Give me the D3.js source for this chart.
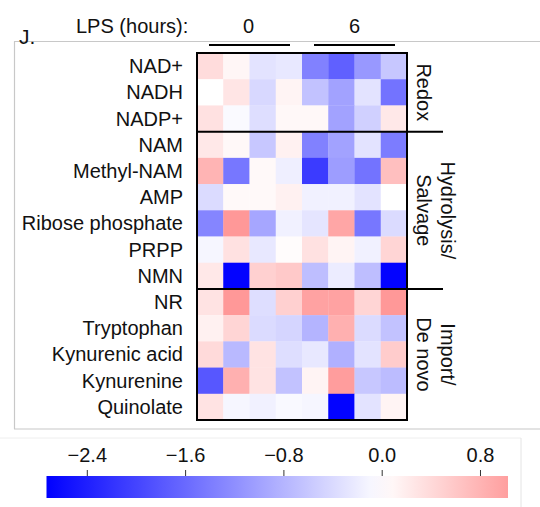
<!DOCTYPE html>
<html>
<head>
<meta charset="utf-8">
<script src="https://cdn.jsdelivr.net/npm/d3@7"></script>
<style>
  body { margin: 0; background: #fff; }
  text { font-family: "Liberation Sans", Arial, sans-serif; fill: #111; }
</style>
</head>
<body>
<div id="chart"></div>
<script>
// metabolites (rows), top to bottom
var metabolites = ["NAD+", "NADH", "NADP+", "NAM", "Methyl-NAM", "AMP", "Ribose phosphate",
  "PRPP", "NMN", "NR", "Tryptophan", "Kynurenic acid", "Kynurenine", "Quinolate"];

// samples (columns): 4 at LPS 0 h, 4 at LPS 6 h
var samples = ["0a", "0b", "0c", "0d", "6a", "6b", "6c", "6d"];
var lpsHours = ["0", "6"];

// pathway groups, with first and last row
var groups = [
  { name: ["Redox"], first: 0, last: 2 },
  { name: ["Hydrolysis/", "Salvage"], first: 3, last: 8 },
  { name: ["Import/", "De novo"], first: 9, last: 13 }
];

// log fold change
var values = [
  [0.37, 0.10, -0.30, -0.25, -1.35, -1.70, -1.10, -0.60],
  [0.00, 0.28, -0.42, 0.12, -0.65, -1.00, -0.30, -1.50],
  [0.32, -0.05, -0.35, 0.08, 0.08, -1.00, -0.50, 0.25],
  [0.25, 0.07, -0.60, 0.15, -1.35, -1.00, -0.30, -1.40],
  [0.80, -1.45, 0.06, -0.17, -2.10, -1.05, -1.50, 0.68],
  [-0.38, 0.06, 0.06, 0.15, -0.15, -0.15, -0.30, 0.00],
  [-1.30, 1.10, -0.95, -0.15, -0.28, 0.95, -1.45, -0.38],
  [-0.10, 0.32, -0.25, 0.03, 0.32, 0.12, -0.15, 0.45],
  [0.25, -2.70, 0.50, 0.58, -0.70, -0.20, -0.70, -2.70],
  [0.30, 1.10, -0.35, 0.50, 1.00, 1.00, 0.45, 1.10],
  [0.15, 0.45, -0.38, -0.45, -0.80, 0.85, -0.38, -0.65],
  [0.40, -0.75, 0.30, -0.35, -0.25, -0.85, -0.30, 0.55],
  [-1.80, 0.85, 0.30, -0.65, 0.12, 1.05, -0.60, -0.72],
  [0.30, -0.10, -0.15, -0.06, -0.10, -2.70, -0.30, 0.12]
];

var colorTicks = [-2.4, -1.6, -0.8, 0.0, 0.8];
var colorMin = -2.728, colorMax = 1.028;

var width = 540, height = 507;

var svg = d3.select("#chart").append("svg")
  .attr("width", width)
  .attr("height", height);

// light panel frames
svg.append("line").attr("x1", 14).attr("x2", 540).attr("y1", 41.5).attr("y2", 41.5)
  .attr("stroke", "#c8c8c8").attr("stroke-width", 1.2);
svg.append("line").attr("x1", 14).attr("x2", 540).attr("y1", 429).attr("y2", 429)
  .attr("stroke", "#c8c8c8").attr("stroke-width", 1.2);
svg.append("line").attr("x1", 14.5).attr("x2", 14.5).attr("y1", 41.5).attr("y2", 429)
  .attr("stroke", "#c8c8c8").attr("stroke-width", 1.2);
svg.append("line").attr("x1", 0).attr("x2", 521).attr("y1", 438).attr("y2", 438)
  .attr("stroke", "#eeeeee");
svg.append("line").attr("x1", 521).attr("x2", 521).attr("y1", 438).attr("y2", 507)
  .attr("stroke", "#e4e4e4");

// scales
var x = d3.scaleBand().domain(samples).range([197, 407]);
var y = d3.scaleBand().domain(metabolites).range([53, 420]);
var color = d3.scaleLinear()
  .domain([-2.728, 0, 2.728])
  .range(["#0000ff", "#ffffff", "#ff0000"])
  .clamp(true);

// cells
var cells = [];
values.forEach(function (row, i) {
  row.forEach(function (v, j) {
    cells.push({ m: metabolites[i], s: samples[j], v: v });
  });
});

svg.selectAll("rect.cell")
  .data(cells)
  .enter().append("rect")
  .attr("class", "cell")
  .attr("x", function (d) { return x(d.s); })
  .attr("y", function (d) { return y(d.m); })
  .attr("width", x.bandwidth() + 0.3)
  .attr("height", y.bandwidth() + 0.3)
  .attr("fill", function (d) { return color(d.v); });

// box round the heatmap
svg.append("rect")
  .attr("x", 197).attr("y", 53)
  .attr("width", 210).attr("height", 367)
  .attr("fill", "none")
  .attr("stroke", "#000")
  .attr("stroke-width", 2);

// group dividers
groups.slice(1).forEach(function (g) {
  var yy = y(metabolites[g.first]);
  svg.append("line")
    .attr("x1", 197).attr("x2", 443)
    .attr("y1", yy).attr("y2", yy)
    .attr("stroke", "#000").attr("stroke-width", 2);
});

// row labels
svg.selectAll("text.row")
  .data(metabolites)
  .enter().append("text")
  .attr("class", "row")
  .attr("x", 183)
  .attr("y", function (d) { return y(d) + y.bandwidth() / 2; })
  .attr("dy", "0.35em")
  .attr("text-anchor", "end")
  .style("font-size", "20px")
  .text(function (d) { return d; });

// group labels, rotated
groups.forEach(function (g) {
  var cy = (y(metabolites[g.first]) + y(metabolites[g.last]) + y.bandwidth()) / 2;
  var lines = g.name.slice().reverse(); // last line nearest the box
  lines.forEach(function (t, k) {
    var bx = 417 + k * 24;
    svg.append("text")
      .attr("transform", "translate(" + bx + "," + cy + ") rotate(90)")
      .attr("text-anchor", "middle")
      .style("font-size", "20px")
      .text(t);
  });
});

// top header
svg.append("text").attr("x", 19).attr("y", 44)
  .style("font-size", "21px").text("J.");
svg.append("text").attr("x", 76).attr("y", 33)
  .style("font-size", "20px").text("LPS (hours):");

var lps = d3.scaleBand().domain(lpsHours).range([197, 407]);
lpsHours.forEach(function (h, i) {
  var x0 = lps(h), bw = lps.bandwidth();
  svg.append("text")
    .attr("x", x0 + bw / 2 + (i == 0 ? -1 : 0))
    .attr("y", 33)
    .attr("text-anchor", "middle")
    .style("font-size", "20px")
    .text(h);
  svg.append("line")
    .attr("x1", x0 + 12).attr("x2", x0 + bw - 12)
    .attr("y1", 45).attr("y2", 45)
    .attr("stroke", "#000").attr("stroke-width", 2);
});

// colour bar
var cbX = d3.scaleLinear().domain([colorMin, colorMax]).range([46.5, 508]);
var defs = svg.append("defs");
var grad = defs.append("linearGradient").attr("id", "cbar")
  .attr("x1", "0%").attr("x2", "100%").attr("y1", "0%").attr("y2", "0%");
d3.range(0, 1.0001, 0.05).forEach(function (t) {
  var v = colorMin + t * (colorMax - colorMin);
  grad.append("stop").attr("offset", (t * 100) + "%").attr("stop-color", color(v));
});
svg.append("rect")
  .attr("x", cbX(colorMin)).attr("y", 476)
  .attr("width", cbX(colorMax) - cbX(colorMin)).attr("height", 22)
  .attr("fill", "url(#cbar)");

var cbAxis = svg.append("g")
  .attr("transform", "translate(0,476)")
  .call(d3.axisTop(cbX).tickValues(colorTicks).tickFormat(d3.format(".1f")).tickSize(6).tickPadding(8));
cbAxis.select(".domain").remove();
cbAxis.selectAll("line").attr("stroke", "#333");
cbAxis.selectAll("text")
  .style("font-size", "20px")
  .style("font-family", "'Liberation Sans', Arial, sans-serif")
  .attr("fill", "#111");
</script>
</body>
</html>
